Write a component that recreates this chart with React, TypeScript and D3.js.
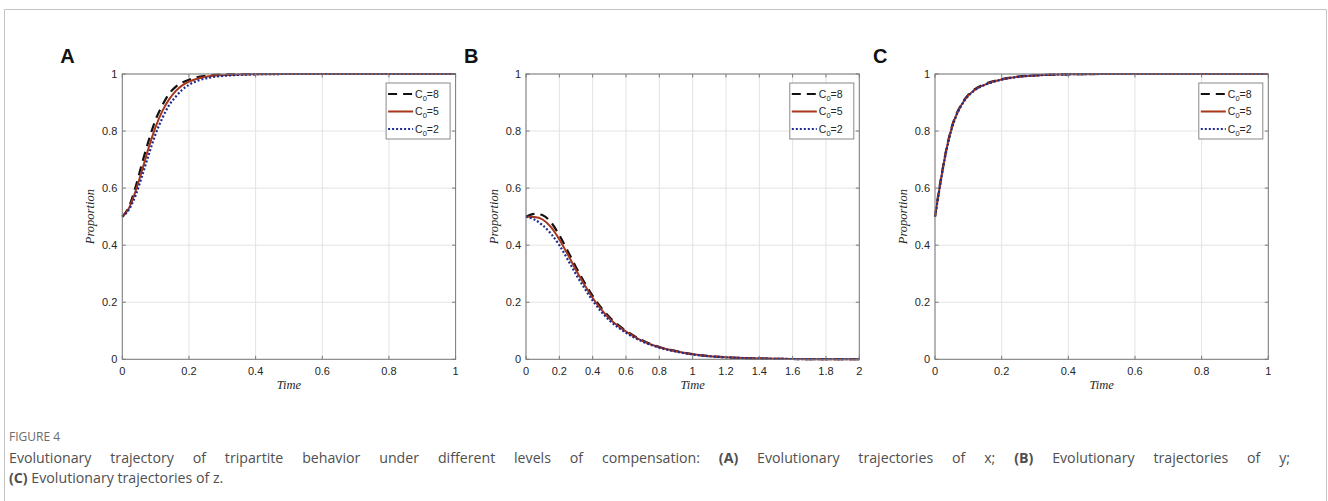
import React, { useLayoutEffect, useRef, useState } from "react";
import * as d3 from "d3";

// ---------- data ----------
const seriesLabels = ["8", "5", "2"];

const timeA = [0, 0.02, 0.04, 0.06, 0.08, 0.1, 0.12, 0.14, 0.16, 0.18, 0.2, 0.23, 0.26, 0.3, 0.35, 0.4, 0.5, 0.6, 0.8, 1];
const xC8 = [0.5, 0.535, 0.605, 0.69, 0.77, 0.84, 0.89, 0.93, 0.955, 0.97, 0.98, 0.99, 0.995, 0.998, 0.999, 1, 1, 1, 1, 1];
const xC5 = [0.5, 0.53, 0.59, 0.665, 0.745, 0.815, 0.87, 0.91, 0.94, 0.96, 0.973, 0.985, 0.992, 0.996, 0.998, 0.999, 1, 1, 1, 1];
const xC2 = [0.5, 0.525, 0.575, 0.645, 0.72, 0.79, 0.845, 0.89, 0.92, 0.945, 0.962, 0.978, 0.987, 0.993, 0.997, 0.999, 1, 1, 1, 1];

const timeB = [0, 0.05, 0.1, 0.15, 0.2, 0.25, 0.3, 0.35, 0.4, 0.45, 0.5, 0.6, 0.7, 0.8, 0.9, 1.0, 1.2, 1.4, 1.6, 1.8, 2.0];
const yC8 = [0.5, 0.51, 0.505, 0.48, 0.435, 0.38, 0.323, 0.27, 0.222, 0.182, 0.148, 0.1, 0.066, 0.043, 0.029, 0.018, 0.007, 0.003, 0.001, 0.0005, 0.0002];
const yC5 = [0.5, 0.499, 0.49, 0.463, 0.42, 0.368, 0.313, 0.262, 0.215, 0.176, 0.143, 0.097, 0.064, 0.042, 0.028, 0.018, 0.007, 0.003, 0.001, 0.0005, 0.0002];
const yC2 = [0.5, 0.49, 0.47, 0.44, 0.4, 0.35, 0.298, 0.25, 0.206, 0.168, 0.137, 0.093, 0.062, 0.041, 0.027, 0.017, 0.007, 0.003, 0.001, 0.0005, 0.0002];

const timeC = [0, 0.01, 0.02, 0.03, 0.04, 0.05, 0.06, 0.08, 0.1, 0.12, 0.15, 0.2, 0.25, 0.3, 0.4, 0.5, 0.7, 1];
const zC8 = [0.5, 0.578, 0.648, 0.713, 0.768, 0.813, 0.848, 0.895, 0.927, 0.947, 0.965, 0.982, 0.991, 0.995, 0.999, 1, 1, 1];
const zC5 = [0.5, 0.575, 0.645, 0.71, 0.765, 0.81, 0.845, 0.893, 0.925, 0.945, 0.963, 0.981, 0.99, 0.995, 0.999, 1, 1, 1];
const zC2 = [0.5, 0.572, 0.642, 0.707, 0.762, 0.807, 0.842, 0.891, 0.923, 0.944, 0.962, 0.98, 0.99, 0.995, 0.999, 1, 1, 1];

const yTicks = [0, 0.2, 0.4, 0.6, 0.8, 1];
const xTicks1 = [0, 0.2, 0.4, 0.6, 0.8, 1];
const xTicks2 = [0, 0.2, 0.4, 0.6, 0.8, 1, 1.2, 1.4, 1.6, 1.8, 2];

const panelLetters = ["A", "B", "C"];
const figureLabel = "FIGURE 4";

// ---------- styles ----------
const seriesStyles = [
  { color: "#111111", dash: "9,6", width: 2.2 },
  { color: "#a8361a", dash: null, width: 2 },
  { color: "#1c2b94", dash: "2,2", width: 2.2 },
];

const panels = [
  { letter: panelLetters[0], x0: 122.3, x1: 455.6, domain: [0, 1], ticks: xTicks1, t: timeA, series: [xC8, xC5, xC2] },
  { letter: panelLetters[1], x0: 526, x1: 859.3, domain: [0, 2], ticks: xTicks2, t: timeB, series: [yC8, yC5, yC2] },
  { letter: panelLetters[2], x0: 935, x1: 1268.3, domain: [0, 1], ticks: xTicks1, t: timeC, series: [zC8, zC5, zC2] },
];

const Y0 = 359.3;
const Y1 = 74;
const tickFont = "'Liberation Sans', Arial, Helvetica, sans-serif";

function fmt(v: number) {
  return String(+v.toFixed(1));
}

function Panel({ p }: { p: typeof panels[number] }) {
  const x = d3.scaleLinear().domain(p.domain).range([p.x0, p.x1]);
  const y = d3.scaleLinear().domain([0, 1]).range([Y0, Y1]);
  const line = d3
    .line<number>()
    .x((_, i) => x(p.t[i]))
    .y((d) => y(d))
    .curve(d3.curveMonotoneX);
  const axisColor = "#7a7a7a";
  const gridColor = "#e3e3e3";
  const lgX0 = p.x1 - 69.5;
  const lgX1 = p.x1 - 5.5;
  const lgY0 = 83;
  const rowY = [94, 111.5, 129];
  return (
    <g>
      {p.ticks.map((t) => (
        <line key={"gx" + t} x1={x(t)} x2={x(t)} y1={Y0} y2={Y1} stroke={gridColor} strokeWidth={1} />
      ))}
      {yTicks.map((t) => (
        <line key={"gy" + t} x1={p.x0} x2={p.x1} y1={y(t)} y2={y(t)} stroke={gridColor} strokeWidth={1} />
      ))}
      {p.series.map((s, i) => (
        <path
          key={"s" + i}
          d={line(s) || ""}
          fill="none"
          stroke={seriesStyles[i].color}
          strokeWidth={seriesStyles[i].width}
          strokeDasharray={seriesStyles[i].dash || undefined}
        />
      ))}
      <rect x={p.x0} y={Y1} width={p.x1 - p.x0} height={Y0 - Y1} fill="none" stroke={axisColor} strokeWidth={1} />
      {p.ticks.map((t) => (
        <g key={"tx" + t}>
          <line x1={x(t)} x2={x(t)} y1={Y0} y2={Y0 - 3.5} stroke={axisColor} />
          <line x1={x(t)} x2={x(t)} y1={Y1} y2={Y1 + 3.5} stroke={axisColor} />
          <text x={x(t)} y={375} textAnchor="middle" fontFamily={tickFont} fontSize={11} fill="#262626">
            {fmt(t)}
          </text>
        </g>
      ))}
      {yTicks.map((t) => (
        <g key={"ty" + t}>
          <line x1={p.x0} x2={p.x0 + 3.5} y1={y(t)} y2={y(t)} stroke={axisColor} />
          <line x1={p.x1} x2={p.x1 - 3.5} y1={y(t)} y2={y(t)} stroke={axisColor} />
          <text x={p.x0 - 5} y={y(t) + 4} textAnchor="end" fontFamily={tickFont} fontSize={11} fill="#262626">
            {fmt(t)}
          </text>
        </g>
      ))}
      <text
        x={(p.x0 + p.x1) / 2}
        y={389}
        textAnchor="middle"
        fontFamily="'Liberation Serif', 'DejaVu Serif', serif"
        fontStyle="italic"
        fontSize={12.5}
        fill="#262626"
      >
        Time
      </text>
      <text
        transform={`translate(${p.x0 - 28},${(Y0 + Y1) / 2}) rotate(-90)`}
        textAnchor="middle"
        fontFamily="'Liberation Serif', 'DejaVu Serif', serif"
        fontStyle="italic"
        fontSize={12.5}
        fill="#262626"
      >
        Proportion
      </text>
      <text x={p.x0 - 62} y={63} fontFamily={tickFont} fontWeight="bold" fontSize={20} fill="#111">
        {p.letter}
      </text>
      <rect x={lgX0} y={lgY0} width={lgX1 - lgX0} height={56} fill="#fff" stroke="#8a8a8a" strokeWidth={1} />
      {seriesLabels.map((lab, i) => (
        <g key={"lg" + i}>
          <line
            x1={lgX0 + 2}
            x2={lgX0 + 27}
            y1={rowY[i]}
            y2={rowY[i]}
            stroke={seriesStyles[i].color}
            strokeWidth={seriesStyles[i].width}
            strokeDasharray={seriesStyles[i].dash || undefined}
          />
          <text x={lgX0 + 29} y={rowY[i] + 3.5} fontFamily={tickFont} fontSize={10.5} fill="#262626">
            C<tspan fontSize={7.5} dy={3}>0</tspan>
            <tspan dy={-3}>={lab}</tspan>
          </text>
        </g>
      ))}
    </g>
  );
}

const captionLine1 =
  "Evolutionary trajectory of tripartite behavior under different levels of compensation: (A) Evolutionary trajectories of x; (B) Evolutionary trajectories of y;";

export default function App() {
  const captionFont = "'Open Sans', 'Noto Sans', sans-serif";
  const line1Ref = useRef<SVGTextElement>(null);
  const [wordSpacing, setWordSpacing] = useState(0);
  useLayoutEffect(() => {
    const el = line1Ref.current;
    if (!el) return;
    el.style.wordSpacing = "0px";
    const w = el.getComputedTextLength();
    const spaces = captionLine1.split(" ").length - 1;
    const target = 1281;
    setWordSpacing(Math.max(0, (target - w) / spaces));
  }, []);
  return (
    <svg
      width={1328}
      height={501}
      style={{ position: "absolute", left: 0, top: 0, background: "#fff" }}
      xmlns="http://www.w3.org/2000/svg"
    >
      <rect x={0} y={0} width={1328} height={501} fill="#fff" />
      <path d="M4.5,520 V9.5 H1326.5 V520" fill="none" stroke="#c4c4c4" strokeWidth={1} />
      {panels.map((p) => (
        <Panel key={p.letter} p={p} />
      ))}
      <text x={9} y={441} fontFamily={captionFont} fontSize={12} fill="#6b6b6b">
        {figureLabel}
      </text>
      <text
        ref={line1Ref}
        x={9}
        y={463}
        fontFamily={captionFont}
        fontSize={14.2}
        fill="#4f4f4f"
        style={{ wordSpacing: `${wordSpacing}px` }}
      >
        Evolutionary trajectory of tripartite behavior under different levels of compensation:{" "}
        <tspan fontWeight="bold">(A)</tspan> Evolutionary trajectories of x; <tspan fontWeight="bold">(B)</tspan>{" "}
        Evolutionary trajectories of y;
      </text>
      <text x={9} y={483} fontFamily={captionFont} fontSize={14.2} fill="#4f4f4f">
        <tspan fontWeight="bold">(C)</tspan> Evolutionary trajectories of z.
      </text>
    </svg>
  );
}
